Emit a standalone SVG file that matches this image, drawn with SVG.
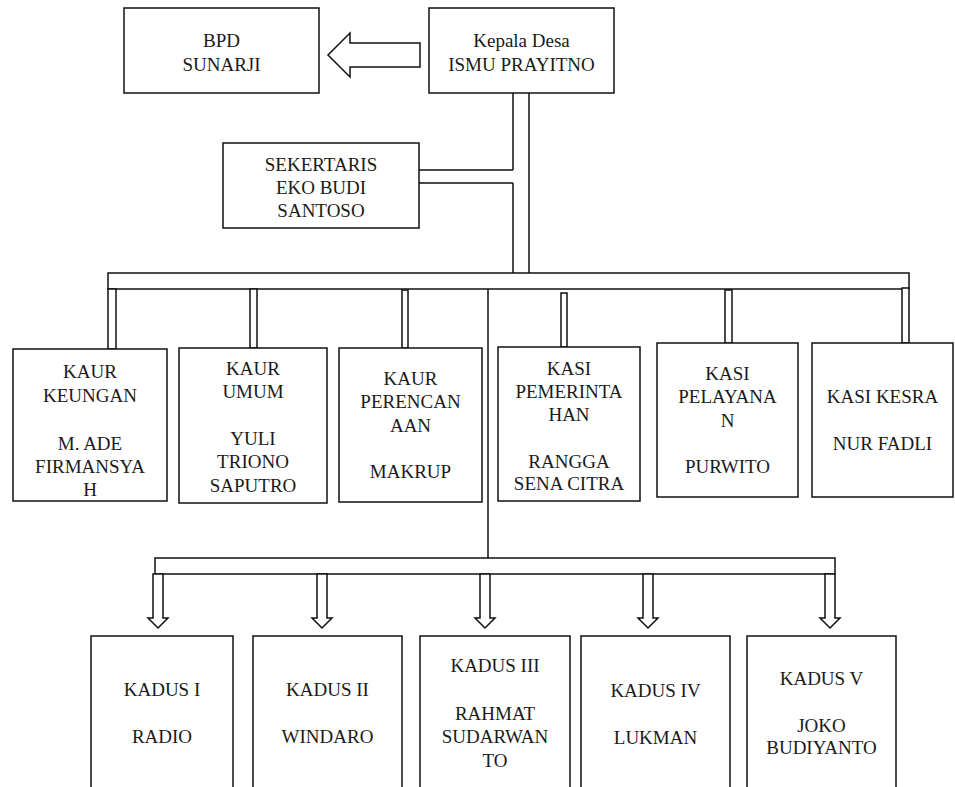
<svg xmlns="http://www.w3.org/2000/svg" width="955" height="787" viewBox="0 0 955 787">
<style>
.box{fill:#fff;stroke:#111;stroke-width:1.5}
.ln{fill:none;stroke:#111;stroke-width:1.5}
.pipe{fill:#fff;stroke:#111;stroke-width:1.5}
.t{font-size:19px;fill:#1a1a1a;text-anchor:middle}
</style>
<rect width="955" height="787" fill="#fff"/>
<g id="connectors">
  <path class="pipe" d="M420 43 H350 V33 L328 55 L350 77 V67 H420 Z"/>
  <path class="ln" d="M513 93 V170 M513 183 V273 M529 93 V273"/>
  <path class="ln" d="M419 170 H513 M419 183 H513"/>
  <rect class="pipe" x="108" y="273" width="801" height="16"/>
  <rect class="pipe" x="108" y="289" width="8" height="60"/>
  <rect class="pipe" x="250" y="289" width="7" height="59"/>
  <rect class="pipe" x="402" y="290" width="6" height="58"/>
  <rect class="pipe" x="561" y="293" width="6" height="54"/>
  <rect class="pipe" x="725" y="290" width="7" height="53"/>
  <rect class="pipe" x="902" y="288" width="7" height="55"/>
  <path class="ln" d="M488 289 V558"/>
  <rect class="pipe" x="155" y="558" width="680" height="16"/>
  <path class="pipe" d="M153 574 V618 H148 L158 628 L168 618 H163 V574 Z"/>
  <path class="pipe" d="M317 574 V618 H312 L322 628 L332 618 H327 V574 Z"/>
  <path class="pipe" d="M480 574 V618 H475 L485 628 L495 618 H490 V574 Z"/>
  <path class="pipe" d="M643 574 V618 H638 L648 628 L658 618 H653 V574 Z"/>
  <path class="pipe" d="M825 574 V618 H820 L830 628 L840 618 H835 V574 Z"/>
</g>
<g font-family="Liberation Serif, Times New Roman, DejaVu Serif, serif">
<g id="bpd">
  <rect class="box" x="124" y="8" width="195" height="85"/>
  <text class="t" x="221.5" y="47">BPD</text>
  <text class="t" x="221.5" y="71">SUNARJI</text>
</g>
<g id="kepala-desa">
  <rect class="box" x="429" y="8" width="185" height="85"/>
  <text class="t" x="521.5" y="47">Kepala Desa</text>
  <text class="t" x="521.5" y="71">ISMU PRAYITNO</text>
</g>
<g id="sekertaris">
  <rect class="box" x="223" y="143" width="196" height="85"/>
  <text class="t" x="321" y="171">SEKERTARIS</text>
  <text class="t" x="321" y="194">EKO BUDI</text>
  <text class="t" x="321" y="217">SANTOSO</text>
</g>
<g id="kaur-keuangan">
  <rect class="box" x="13" y="349" width="154" height="152"/>
  <text class="t" x="90" y="378">KAUR</text>
  <text class="t" x="90" y="402">KEUNGAN</text>
  <text class="t" x="90" y="450">M. ADE</text>
  <text class="t" x="90" y="473">FIRMANSYA</text>
  <text class="t" x="90" y="496">H</text>
</g>
<g id="kaur-umum">
  <rect class="box" x="179" y="348" width="148" height="155"/>
  <text class="t" x="253" y="375">KAUR</text>
  <text class="t" x="253" y="398">UMUM</text>
  <text class="t" x="253" y="445">YULI</text>
  <text class="t" x="253" y="468">TRIONO</text>
  <text class="t" x="253" y="492">SAPUTRO</text>
</g>
<g id="kaur-perencanaan">
  <rect class="box" x="339" y="348" width="143" height="154"/>
  <text class="t" x="410.5" y="385">KAUR</text>
  <text class="t" x="410.5" y="408">PERENCAN</text>
  <text class="t" x="410.5" y="432">AAN</text>
  <text class="t" x="410.5" y="478">MAKRUP</text>
</g>
<g id="kasi-pemerintahan">
  <rect class="box" x="498" y="347" width="142" height="154"/>
  <text class="t" x="569" y="375">KASI</text>
  <text class="t" x="569" y="398">PEMERINTA</text>
  <text class="t" x="569" y="421">HAN</text>
  <text class="t" x="569" y="468">RANGGA</text>
  <text class="t" x="569" y="490">SENA CITRA</text>
</g>
<g id="kasi-pelayanan">
  <rect class="box" x="657" y="343" width="141" height="154"/>
  <text class="t" x="727.5" y="380">KASI</text>
  <text class="t" x="727.5" y="403">PELAYANA</text>
  <text class="t" x="727.5" y="427">N</text>
  <text class="t" x="727.5" y="473">PURWITO</text>
</g>
<g id="kasi-kesra">
  <rect class="box" x="812" y="343" width="141" height="154"/>
  <text class="t" x="882.5" y="403">KASI KESRA</text>
  <text class="t" x="882.5" y="450">NUR FADLI</text>
</g>
<g id="kadus-1">
  <rect class="box" x="91" y="636" width="142" height="170"/>
  <text class="t" x="162" y="696">KADUS I</text>
  <text class="t" x="162" y="743">RADIO</text>
</g>
<g id="kadus-2">
  <rect class="box" x="253" y="636" width="149" height="170"/>
  <text class="t" x="327.5" y="696">KADUS II</text>
  <text class="t" x="327.5" y="743">WINDARO</text>
</g>
<g id="kadus-3">
  <rect class="box" x="420" y="636" width="150" height="170"/>
  <text class="t" x="495" y="672">KADUS III</text>
  <text class="t" x="495" y="720">RAHMAT</text>
  <text class="t" x="495" y="743">SUDARWAN</text>
  <text class="t" x="495" y="767">TO</text>
</g>
<g id="kadus-4">
  <rect class="box" x="581" y="636" width="149" height="170"/>
  <text class="t" x="655.5" y="697">KADUS IV</text>
  <text class="t" x="655.5" y="744">LUKMAN</text>
</g>
<g id="kadus-5">
  <rect class="box" x="747" y="636" width="149" height="170"/>
  <text class="t" x="821.5" y="685">KADUS V</text>
  <text class="t" x="821.5" y="732">JOKO</text>
  <text class="t" x="821.5" y="754">BUDIYANTO</text>
</g>
</g>
</svg>
